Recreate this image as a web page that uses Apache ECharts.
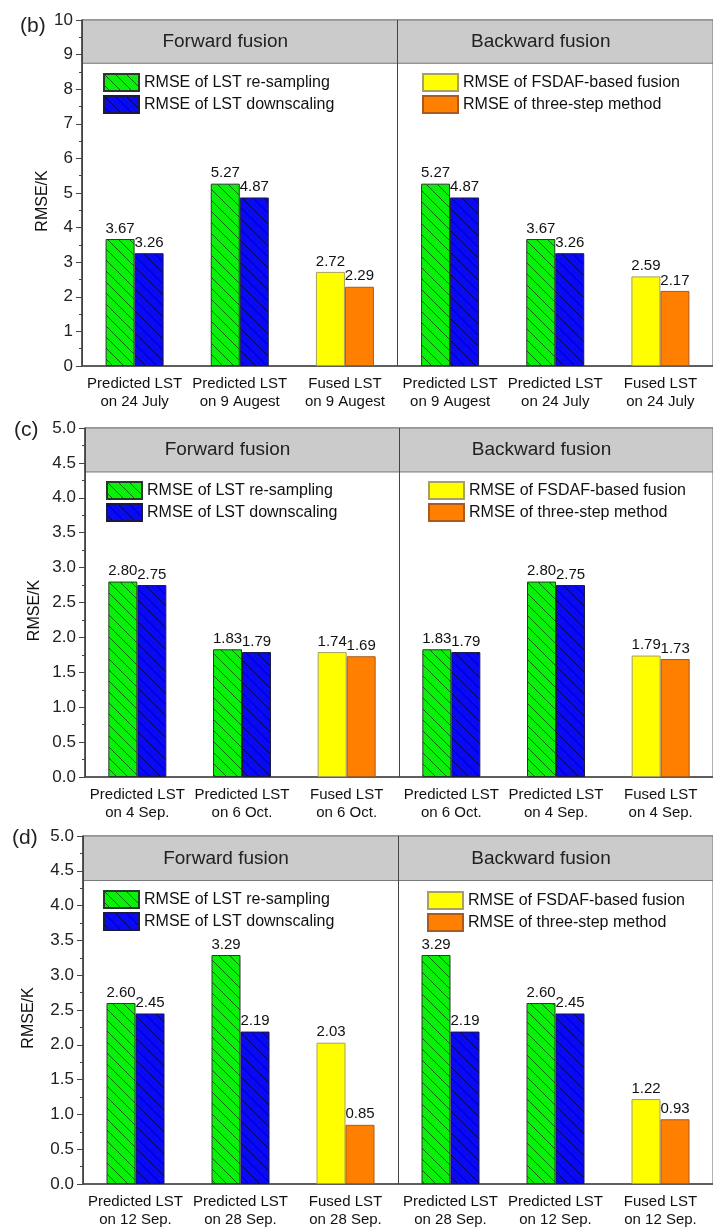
<!DOCTYPE html>
<html>
<head>
<meta charset="utf-8">
<script src="https://cdn.jsdelivr.net/npm/echarts@6/dist/echarts.min.js"></script>
<style>
  html, body { margin: 0; padding: 0; background: #fff; }
  #chart { width: 713px; height: 1229px; }
</style>
</head>
<body>
<div id="chart"></div>
<script>
// ---- data ----
const catsB = ["Predicted LST\non 24 July", "Predicted LST\non 9 Augest", "Fused LST\non 9 Augest",
  "Predicted LST\non 9 Augest", "Predicted LST\non 24 July", "Fused LST\non 24 July"]
const resampleB = [3.67, 5.27, null, 5.27, 3.67, null]
const downscaleB = [3.26, 4.87, null, 4.87, 3.26, null]
const fsdafB = [null, null, 2.72, null, null, 2.59]
const threeStepB = [null, null, 2.29, null, null, 2.17]

const catsC = ["Predicted LST\non 4 Sep.", "Predicted LST\non 6 Oct.", "Fused LST\non 6 Oct.",
  "Predicted LST\non 6 Oct.", "Predicted LST\non 4 Sep.", "Fused LST\non 4 Sep."]
const resampleC = [2.80, 1.83, null, 1.83, 2.80, null]
const downscaleC = [2.75, 1.79, null, 1.79, 2.75, null]
const fsdafC = [null, null, 1.79, null, null, 1.74]
const threeStepC = [null, null, 1.73, null, null, 1.69]
// printed labels of the fused bars in (c) (differ from drawn heights)
const fsdafTextC = [null, null, "1.74", null, null, "1.79"]
const threeStepTextC = [null, null, "1.69", null, null, "1.73"]

const catsD = ["Predicted LST\non 12 Sep.", "Predicted LST\non 28 Sep.", "Fused LST\non 28 Sep.",
  "Predicted LST\non 28 Sep.", "Predicted LST\non 12 Sep.", "Fused LST\non 12 Sep."]
const resampleD = [2.60, 3.29, null, 3.29, 2.60, null]
const downscaleD = [2.45, 2.19, null, 2.19, 2.45, null]
const fsdafD = [null, null, 2.03, null, null, 1.22]
const threeStepD = [null, null, 0.85, null, null, 0.93]

const panelNames = ["(b)", "(c)", "(d)"]
const headerNames = ["Forward fusion", "Backward fusion"]
const seriesNames = ["RMSE of LST re-sampling", "RMSE of LST downscaling",
  "RMSE of FSDAF-based fusion", "RMSE of three-step method"]

// ---- layout / style ----
const FONT = "'Liberation Sans', Arial, sans-serif"
const panels = [
  { cats: catsB, vals: [resampleB, downscaleB, fsdafB, threeStepB], texts: [],
    left: 82, width: 634, top: 20, height: 346, max: 10, interval: 1, band: 8.75, dec: 0, nameGap: 31,
    title: [20, 16], legL: [103, 73], legR: [422, 73] },
  { cats: catsC, vals: [resampleC, downscaleC, fsdafC, threeStepC], texts: [null, null, fsdafTextC, threeStepTextC],
    left: 85, width: 640, top: 428, height: 349, max: 5, interval: 0.5, band: 4.37, dec: 1, nameGap: 42,
    title: [14, 420], legL: [106, 481], legR: [428, 481] },
  { cats: catsD, vals: [resampleD, downscaleD, fsdafD, threeStepD], texts: [],
    left: 83, width: 643, top: 836, height: 351, max: 5, interval: 0.5, band: 4.36, dec: 1, nameGap: 46,
    title: [12, 828], legL: [103, 890], legR: [427, 891] }
]

function hatch(bg, line) {
  const s = 11
  const c = document.createElement("canvas")
  c.width = s
  c.height = s
  const ctx = c.getContext("2d")
  ctx.fillStyle = bg
  ctx.fillRect(0, 0, s, s)
  ctx.strokeStyle = line
  ctx.lineWidth = 1
  ctx.beginPath()
  ctx.moveTo(-2, -2); ctx.lineTo(s + 2, s + 2)
  ctx.moveTo(-2, s - 2); ctx.lineTo(2, s + 2)
  ctx.moveTo(s - 2, -2); ctx.lineTo(s + 2, 2)
  ctx.stroke()
  return { image: c, repeat: "repeat" }
}

const barStyles = [
  { color: hatch("#0af00a", "rgba(0,60,0,0.75)"), borderColor: "#2a3a2a", borderWidth: 1 },
  { color: hatch("#0a0af2", "rgba(0,0,70,0.8)"), borderColor: "#1a1a40", borderWidth: 1 },
  { color: "#ffff00", borderColor: "#a8a060", borderWidth: 1 },
  { color: "#ff8000", borderColor: "#a85a20", borderWidth: 1 }
]

const grid = [], xAxis = [], yAxis = [], series = [], legend = [], title = []

panels.forEach((p, k) => {
  grid.push({ left: p.left, width: p.width, top: p.top, height: p.height,
    show: true, borderColor: "#666", borderWidth: 1, backgroundColor: "transparent" })

  // labelled axis with ticks at the category centres
  xAxis.push({
    type: "category", gridIndex: k, data: p.cats, position: "bottom",
    axisLine: { lineStyle: { color: "#444", width: 1.5 } },
    axisTick: { alignWithLabel: true, interval: 0, length: 6, lineStyle: { color: "#444" } },
    axisLabel: { interval: 0, fontSize: 15, lineHeight: 18, color: "#111", margin: 9, fontFamily: FONT },
    splitLine: { show: false }
  })
  // helper axis: ticks at the category boundaries and the middle separator
  xAxis.push({
    type: "category", gridIndex: k, data: p.cats, position: "bottom", z: 5,
    axisLine: { show: false },
    axisTick: { interval: 0, length: 4, lineStyle: { color: "#444" } },
    axisLabel: { show: false },
    splitLine: { show: true, interval: 2, lineStyle: { color: "#444", width: 1 } }
  })

  yAxis.push({
    type: "value", gridIndex: k, min: 0, max: p.max, interval: p.interval, z: 5,
    name: "RMSE/K", nameLocation: "middle", nameGap: p.nameGap, nameMoveOverlap: false,
    nameTextStyle: { fontSize: 16, color: "#111", fontFamily: FONT, padding: [0, 16, 0, 0] },
    axisLine: { show: true, lineStyle: { color: "#444", width: 1.5 } },
    axisTick: { show: true, length: 6, lineStyle: { color: "#444" } },
    minorTick: { show: true, splitNumber: 2, length: 3, lineStyle: { color: "#444" } },
    splitLine: { show: false },
    axisLabel: { fontSize: 17, color: "#222", margin: 9, fontFamily: FONT,
      formatter: (v) => v.toFixed(p.dec) }
  })

  p.vals.forEach((vals, s) => {
    const texts = p.texts[s]
    const item = {
      name: seriesNames[s], type: "bar", xAxisIndex: 2 * k, yAxisIndex: k,
      stack: "slot" + k + "_" + (s % 2),
      barWidth: 29, barGap: "0%",
      data: vals.map((v) => (v == null ? "-" : v)),
      itemStyle: barStyles[s],
      label: {
        show: true, position: "top", distance: 3, fontSize: 15, color: "#111", fontFamily: FONT,
        formatter: (d) => (texts && texts[d.dataIndex]) ? texts[d.dataIndex] : Number(d.value).toFixed(2)
      }
    }
    if (s === 0) {
      item.markArea = {
        silent: true,
        itemStyle: { color: "#cbcbcb", borderColor: "#777", borderWidth: 1 },
        data: [[{ yAxis: p.band }, { yAxis: p.max }]]
      }
      item.markPoint = {
        silent: true, symbol: "rect", symbolSize: 1,
        itemStyle: { color: "rgba(0,0,0,0)" },
        label: { show: true, position: "inside", fontSize: 19, color: "#222", fontFamily: FONT,
          formatter: (d) => d.name },
        data: [
          { name: headerNames[0], coord: [1, (p.band + p.max) / 2] },
          { name: headerNames[1], coord: [4, (p.band + p.max) / 2] }
        ]
      }
    }
    series.push(item)
  })

  const legendBase = {
    orient: "vertical", icon: "rect", itemWidth: 35, itemHeight: 17, itemGap: 3, padding: 0,
    selectedMode: false, textStyle: { fontSize: 16, color: "#111", fontFamily: FONT, lineHeight: 17 }
  }
  legend.push(Object.assign({}, legendBase, { left: p.legL[0], top: p.legL[1], data: seriesNames.slice(0, 2) }))
  legend.push(Object.assign({}, legendBase, { left: p.legR[0], top: p.legR[1], data: seriesNames.slice(2, 4) }))

  title.push({ text: panelNames[k], left: p.title[0], top: p.title[1], padding: 0,
    textStyle: { fontSize: 21, fontWeight: "normal", color: "#222", fontFamily: FONT } })
})

const myChart = echarts.init(document.getElementById("chart"), null, { renderer: "canvas" })
myChart.setOption({
  animation: false,
  textStyle: { fontFamily: FONT },
  title, grid, xAxis, yAxis, legend, series
})
</script>
</body>
</html>
